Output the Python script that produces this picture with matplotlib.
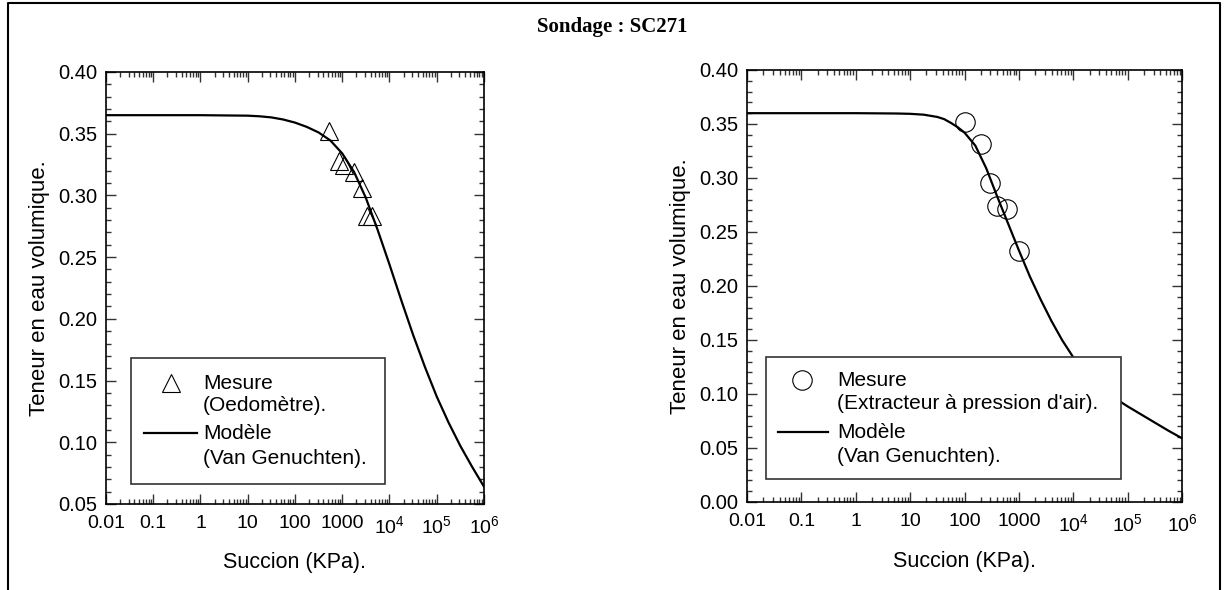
import math
import matplotlib
matplotlib.use("Agg")
import matplotlib.pyplot as plt
from matplotlib.lines import Line2D
from matplotlib.patches import Rectangle
from matplotlib.ticker import LogLocator, MultipleLocator, FuncFormatter, NullFormatter

plt.rcParams['font.family'] = ['Liberation Sans', 'DejaVu Sans']
plt.rcParams['mathtext.fontset'] = 'custom'
plt.rcParams['mathtext.rm'] = 'Liberation Sans'
plt.rcParams['mathtext.it'] = 'Liberation Sans'

title = "Sondage : SC271"

# left plot: oedometer measures
oedo_suction = [525, 850, 1090, 1780, 2630, 3320, 4270]
oedo_theta = [0.352, 0.328, 0.325, 0.319, 0.306, 0.283, 0.283]

# left plot: Van Genuchten model
vg1_suction = [0.01, 0.1, 1, 10, 17.8, 31.6, 56.2, 100, 178, 316, 562, 1000, 1778, 3162,
               5623, 1e4, 1.778e4, 3.162e4, 5.623e4, 1e5, 1.778e5, 3.162e5, 5.623e5, 1e6]
vg1_theta = [0.365, 0.365, 0.365, 0.3646, 0.3641, 0.3632, 0.3615, 0.359, 0.3555, 0.351,
             0.3445, 0.334, 0.319, 0.298, 0.272, 0.244, 0.215, 0.187, 0.161, 0.137,
             0.116, 0.097, 0.080, 0.064]

# right plot: pressure plate measures
plate_suction = [100, 200, 300, 400, 600, 1000]
plate_theta = [0.352, 0.331, 0.295, 0.274, 0.271, 0.232]

# right plot: Van Genuchten model
vg2_suction = [0.01, 1, 5.6, 10, 17.8, 31.6, 42.2, 56.2, 75, 100, 158, 251, 398, 631,
               1000, 1585, 2512, 3981, 6310, 1e4, 1.585e4, 2.512e4, 3.981e4, 6.31e4,
               1e5, 1.778e5, 3.162e5, 5.623e5, 1e6]
vg2_theta = [0.360, 0.360, 0.3597, 0.3594, 0.3586, 0.3565, 0.3545, 0.351, 0.347, 0.342,
             0.330, 0.309, 0.283, 0.258, 0.233, 0.209, 0.1875, 0.1675, 0.1495, 0.134,
             0.121, 0.1105, 0.102, 0.095, 0.0885, 0.081, 0.0735, 0.066, 0.059]

x_ticks = [0.01, 0.1, 1, 10, 100, 1000, 1e4, 1e5, 1e6]


def fmt_x(v, pos):
    if v >= 1e4:
        return r"$10^{%d}$" % round(math.log10(v))
    if v >= 1:
        return "%d" % round(v)
    return "%g" % v


def style_axes(ax, ymin):
    ax.set_xscale('log')
    ax.set_xlim(0.01, 1e6)
    ax.set_ylim(ymin, 0.40)
    ax.set_xticks(x_ticks)
    ax.xaxis.set_major_formatter(FuncFormatter(fmt_x))
    ax.xaxis.set_minor_locator(LogLocator(base=10, subs=range(2, 10), numticks=20))
    ax.xaxis.set_minor_formatter(NullFormatter())
    ax.yaxis.set_major_locator(MultipleLocator(0.05))
    ax.yaxis.set_minor_locator(MultipleLocator(0.01))
    ax.yaxis.set_major_formatter(FuncFormatter(lambda v, p: "%.2f" % v))
    ax.tick_params(which='both', direction='in', top=True, right=True,
                   width=1.0, color='#333333')
    ax.tick_params(axis='x', labelsize=14)
    ax.tick_params(axis='y', labelsize=14.5)
    ax.tick_params(which='major', length=7)
    ax.tick_params(which='minor', length=3.5)
    ax.tick_params(axis='x', pad=8)
    ax.tick_params(axis='y', pad=6)
    for s in ax.spines.values():
        s.set_linewidth(1.2)
    ax.set_xlabel("Succion (KPa).", fontsize=15.5)
    ax.set_ylabel("Teneur en eau volumique.", fontsize=16)
    ax.xaxis.label.set_va('center')
    ax.yaxis.label.set_va('center')


marker_size = {'^': 12.5, 'o': 14}


def draw_legend(ax, box, marker, mark_xy, line_xy, text_x, lines_y, labels):
    ax.add_patch(Rectangle((box[0], box[1]), box[2] - box[0], box[3] - box[1],
                           transform=ax.transAxes, facecolor='white',
                           edgecolor='#333333', linewidth=1.2, zorder=5))
    ax.plot([mark_xy[0]], [mark_xy[1]], marker=marker, markersize=marker_size[marker],
            markerfacecolor='none', markeredgecolor='black', markeredgewidth=0.8,
            linestyle='none', transform=ax.transAxes, zorder=6, clip_on=False)
    ax.plot(line_xy[0], [line_xy[1], line_xy[1]], color='black', linewidth=1.6,
            transform=ax.transAxes, zorder=6)
    for y, lab in zip(lines_y, labels):
        ax.text(text_x, y, lab, transform=ax.transAxes, fontsize=15,
                va='center', ha='left', zorder=7)


fig = plt.figure(figsize=(12.25, 5.9), dpi=100)

ax1 = fig.add_axes([0.0865, 0.1458, 0.3086, 0.7322])
ax1.plot(vg1_suction, vg1_theta, color='black', linewidth=1.6, zorder=3)
ax1.plot(oedo_suction, oedo_theta, linestyle='none', marker='^', markersize=12.5,
         markerfacecolor='none', markeredgecolor='black', markeredgewidth=0.8, zorder=4)
style_axes(ax1, 0.05)
ax1.xaxis.set_label_coords(0.5, -0.135)
ax1.yaxis.set_label_coords(-0.177, 0.5)
draw_legend(ax1, (0.066, 0.046, 0.738, 0.338), '^', (0.172, 0.280),
            ([0.100, 0.242], 0.164), 0.257, [0.280, 0.227, 0.162, 0.106],
            ["Mesure", "(Oedomètre).", "Modèle", "(Van Genuchten)."])

ax2 = fig.add_axes([0.6098, 0.1492, 0.3551, 0.7322])
ax2.plot(vg2_suction, vg2_theta, color='black', linewidth=1.6, zorder=3)
ax2.plot(plate_suction, plate_theta, linestyle='none', marker='o', markersize=14,
         markerfacecolor='none', markeredgecolor='black', markeredgewidth=0.8, zorder=4)
style_axes(ax2, 0.0)
ax2.xaxis.set_label_coords(0.5, -0.138)
ax2.yaxis.set_label_coords(-0.152, 0.5)
draw_legend(ax2, (0.044, 0.053, 0.860, 0.336), 'o', (0.126, 0.282),
            ([0.071, 0.186], 0.162), 0.207, [0.282, 0.229, 0.160, 0.106],
            ["Mesure", "(Extracteur à pression d'air).", "Modèle", "(Van Genuchten)."])

fig.text(0.5, 1 - 27 / 590, title, ha='center', va='center', fontsize=15,
         fontweight='bold', family='Liberation Serif')

x0, x1, y1 = 8 / 1225, 1220 / 1225, 1 - 3 / 590
fig.add_artist(Line2D([x0, x0, x1, x1], [0, y1, y1, 0], transform=fig.transFigure,
                      color='black', linewidth=1.5))

fig.savefig("out.png", dpi=100)
